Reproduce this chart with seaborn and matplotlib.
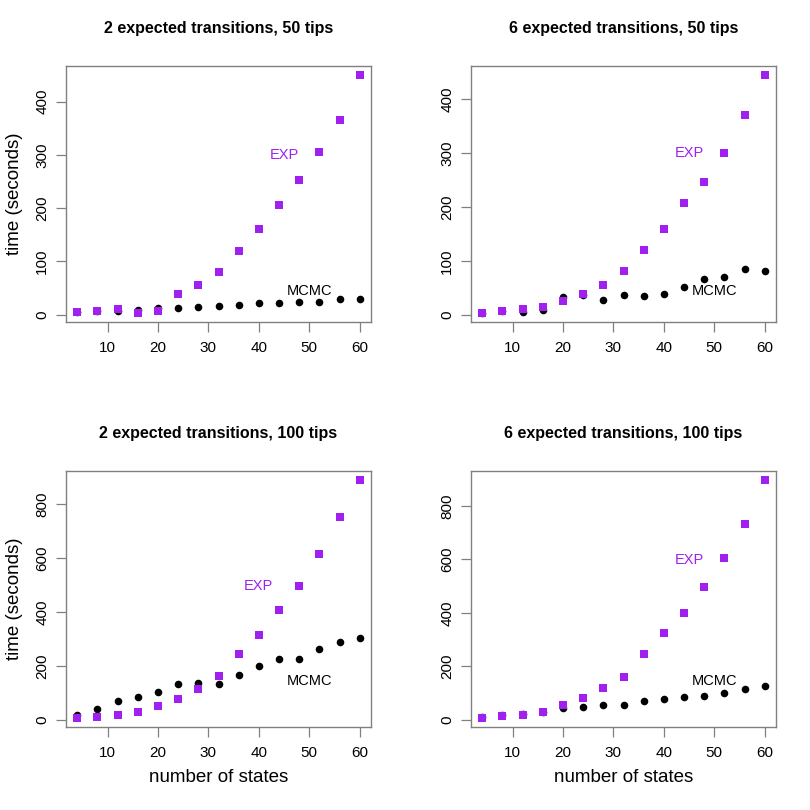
import numpy as np
import pandas as pd
import matplotlib
matplotlib.use("Agg")
import matplotlib.pyplot as plt
import seaborn as sns

states = [4, 8, 12, 16, 20, 24, 28, 32, 36, 40, 44, 48, 52, 56, 60]

exp_2_50 = [5, 6, 11, 4, 7, 38, 55, 80, 119, 161, 205, 253, 306, 366, 449]
mcmc_2_50 = [5, 6, 7.5, 9, 12, 12.5, 14, 16, 19, 21, 21, 24, 24, 29, 30]

exp_6_50 = [5, 7, 11, 16, 26.5, 39.5, 56, 81, 120, 160, 207, 246, 300, 370, 443]
mcmc_6_50 = [5, 7, 6, 10.5, 34, 37, 28, 37, 35, 40, 52, 67, 71, 85, 81]

exp_2_100 = [10, 12, 18.5, 31, 52, 80, 115, 164, 247, 315, 408, 497, 617, 751, 888]
mcmc_2_100 = [20, 42, 70.5, 86.5, 104, 136, 137, 136, 167, 200, 227.5, 225, 262, 290, 305]

exp_6_100 = [9, 14, 20, 31, 54, 82, 120, 162, 247, 326, 401, 498, 606, 733, 895]
mcmc_6_100 = [12, 20, 22, 30, 46, 49, 55, 54, 72, 80, 85, 91, 100, 117, 127]

titles = ["2 expected transitions, 50 tips", "6 expected transitions, 50 tips",
          "2 expected transitions, 100 tips", "6 expected transitions, 100 tips"]
exp_series = [exp_2_50, exp_6_50, exp_2_100, exp_6_100]
mcmc_series = [mcmc_2_50, mcmc_6_50, mcmc_2_100, mcmc_6_100]
yticks_list = [[0, 100, 200, 300, 400], [0, 100, 200, 300, 400],
               [0, 200, 400, 600, 800], [0, 200, 400, 600, 800]]
xticks = [10, 20, 30, 40, 50, 60]
exp_label_pos = [(45, 300), (45, 299), (40, 498), (45, 598)]
mcmc_label_pos = [(50, 44), (50, 44), (50, 147), (50, 146)]

sns.set_style("white")
plt.rcParams['font.family'] = ['Liberation Sans', 'DejaVu Sans']
plt.rcParams['text.color'] = 'black'
plt.rcParams['axes.labelcolor'] = 'black'
plt.rcParams['xtick.labelcolor'] = 'black'
plt.rcParams['ytick.labelcolor'] = 'black'

PURPLE = "#A020F0"
GRAY = "#808080"

fig = plt.figure(figsize=(8.1, 8.1), dpi=100)
W, H = 810, 810
lefts = [66, 471]
tops = [66, 471]
aw, ah = 305, 256

for i in range(4):
    r, c = divmod(i, 2)
    l = lefts[c]
    t = tops[r]
    ax = fig.add_axes([l / W, 1 - (t + ah) / H, aw / W, ah / H])
    df = pd.DataFrame({"states": states, "EXP": exp_series[i], "MCMC": mcmc_series[i]})
    sns.scatterplot(data=df, x="states", y="MCMC", ax=ax, color="black",
                    marker="o", s=30, linewidth=0, zorder=3)
    sns.scatterplot(data=df, x="states", y="EXP", ax=ax, color=PURPLE,
                    marker="s", s=30, linewidth=0, zorder=4)
    allv = np.concatenate([df["EXP"].values, df["MCMC"].values])
    ymin, ymax = allv.min(), allv.max()
    pad = 0.04 * (ymax - ymin)
    ax.set_ylim(ymin - pad, ymax + pad)
    xpad = 0.04 * (max(states) - min(states))
    ax.set_xlim(min(states) - xpad, max(states) + xpad)
    ax.set_xticks(xticks)
    ax.set_yticks(yticks_list[i])
    ax.set_xticklabels([str(v) for v in xticks])
    ax.set_yticklabels([str(v) for v in yticks_list[i]], rotation=90, va="center")
    ax.tick_params(axis="both", which="both", length=7, width=0.9, color=GRAY,
                   labelsize=11, direction="out", left=True, bottom=True,
                   labelcolor="black")
    ax.tick_params(axis="y", pad=5)
    ax.tick_params(axis="x", pad=7)
    for sp in ax.spines.values():
        sp.set_color(GRAY)
        sp.set_linewidth(1.0)
        sp.set_visible(True)
    ax.set_title(titles[i], fontsize=11.5, fontweight="bold", pad=24, color="black")
    ax.set_xlabel("number of states" if r == 1 else "", fontsize=13.5, labelpad=6.5)
    ax.set_ylabel("time (seconds)" if c == 0 else "", fontsize=13.5, labelpad=9)
    ex, ey = exp_label_pos[i]
    ax.text(ex, ey, "EXP", color=PURPLE, fontsize=10.5, ha="center", va="center")
    mx, my = mcmc_label_pos[i]
    ax.text(mx, my, "MCMC", color="black", fontsize=10.5, ha="center", va="center")

fig.savefig("out.png", dpi=100)
